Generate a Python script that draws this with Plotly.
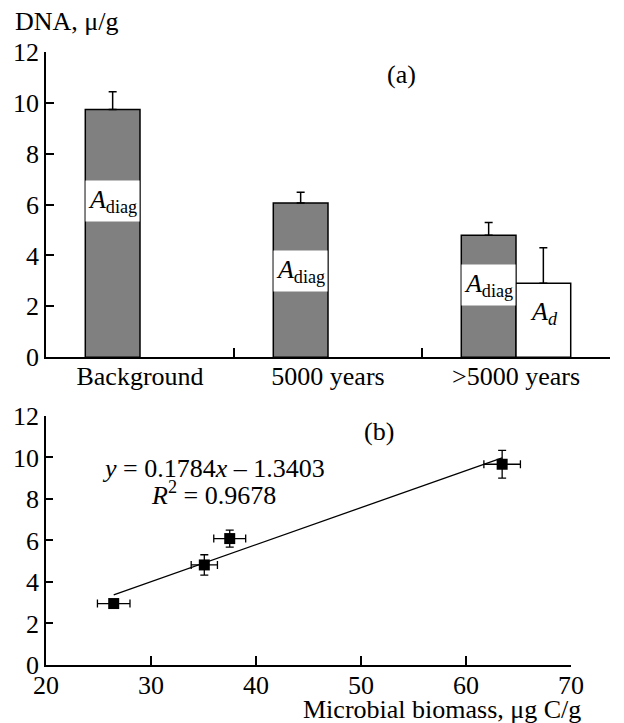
import plotly.graph_objects as go

# ---- data (a) ----
categories = ["Background", "5000 years", ">5000 years"]
diag_dna = [9.74, 6.06, 4.79]
diag_err = [0.70, 0.42, 0.51]
ad_dna = [None, None, 2.91]
ad_err = [0, 0, 1.39]

# ---- data (b) ----
biomass = [63.45, 37.5, 35.08, 26.45]
biomass_err = [1.74, 1.52, 1.25, 1.55]
dna = [9.67, 6.09, 4.82, 2.96]
dna_err = [0.67, 0.41, 0.49, 0.1]
slope = 0.1784
intercept = -1.3403
r2 = 0.9678

y_ticks = [0, 2, 4, 6, 8, 10, 12]
x_ticks = [20, 30, 40, 50, 60, 70]

FONT = "Liberation Serif"
FS = 26

fig = go.Figure()

fig.add_trace(go.Bar(
    x=categories, y=diag_dna, xaxis="x", yaxis="y",
    marker=dict(color="#808080", line=dict(color="black", width=1.5)),
    error_y=dict(type="data", array=diag_err, arrayminus=[0]*3, symmetric=False,
                 color="black", thickness=1.5, width=4),
    offsetgroup="diag", showlegend=False,
))
fig.add_trace(go.Bar(
    x=categories, y=ad_dna, xaxis="x", yaxis="y",
    marker=dict(color="white", line=dict(color="black", width=1.5)),
    error_y=dict(type="data", array=ad_err, arrayminus=[0]*3, symmetric=False,
                 color="black", thickness=1.5, width=4),
    offsetgroup="ad", showlegend=False,
))

# regression line
xl = [min(biomass), max(biomass)]
yl = [slope * v + intercept for v in xl]
fig.add_trace(go.Scatter(
    x=xl, y=yl, mode="lines", xaxis="x2", yaxis="y2",
    line=dict(color="black", width=1.3), showlegend=False,
))
fig.add_trace(go.Scatter(
    x=biomass, y=dna, mode="markers", xaxis="x2", yaxis="y2",
    marker=dict(symbol="square", size=11, color="black"),
    error_x=dict(type="data", array=biomass_err, color="black", thickness=1.3, width=4),
    error_y=dict(type="data", array=dna_err, color="black", thickness=1.3, width=4),
    showlegend=False,
))

axis_common = dict(
    showline=True, linecolor="black", linewidth=1.5, showgrid=False, zeroline=False,
    ticks="inside", tickcolor="black", tickwidth=1.5,
    tickfont=dict(family=FONT, size=FS, color="black"),
)

# bar-label annotations
bar_px = 56
label_y = [6.15, 3.37, 2.83]
annotations = []
for cat, ly in zip(categories, label_y):
    annotations.append(dict(
        x=cat, y=ly, xref="x", yref="y", xshift=-bar_px / 2,
        text="<i>A</i><sub>diag</sub>", showarrow=False,
        bgcolor="white", width=53, height=40, borderpad=0,
        font=dict(family=FONT, size=FS, color="black"),
    ))
annotations.append(dict(
    x=categories[2], y=1.73, xref="x", yref="y", xshift=bar_px / 2,
    text="<i>A</i><sub><i>d</i></sub>", showarrow=False,
    font=dict(family=FONT, size=FS, color="black"),
))
annotations += [
    dict(x=-0.059, y=1.050, xref="paper", yref="paper", xanchor="left", yanchor="middle",
         text="DNA, μ/g", showarrow=False, font=dict(family=FONT, size=FS, color="black")),
    dict(x=0.631, y=11.13, xref="paper", yref="y", text="(a)", showarrow=False,
         font=dict(family=FONT, size=FS, color="black")),
    dict(x=51.7, y=11.26, xref="x2", yref="y2", text="(b)", showarrow=False,
         font=dict(family=FONT, size=FS, color="black")),
    dict(x=35.92, y=9.48, xref="x2", yref="y2",
         text=f"<i>y</i> = {slope}<i>x</i> – {abs(intercept)}", showarrow=False,
         font=dict(family=FONT, size=FS, color="black")),
    dict(x=35.92, y=8.27, xref="x2", yref="y2",
         text=f"<i>R</i><sup>2</sup> = {r2}", showarrow=False,
         font=dict(family=FONT, size=FS, color="black")),
    dict(x=0.9515, y=-0.0723, xref="paper", yref="paper", xanchor="right", yanchor="middle",
         text="Microbial biomass, μg C/g", showarrow=False,
         font=dict(family=FONT, size=FS, color="black")),
]

# page body has an 8px margin, so the figure is sized 8px smaller
fig.update_layout(
    width=616, height=715,
    margin=dict(l=38, r=1, t=44, b=58),
    paper_bgcolor="white", plot_bgcolor="white",
    barmode="group", bargap=0.418, bargroupgap=0,
    font=dict(family=FONT, size=FS, color="black"),
    xaxis=dict(domain=[0, 1], anchor="y", type="category", range=[-0.5, 2.5],
               tickson="boundaries", ticklen=9, ticklabelstandoff=-5, **axis_common),
    yaxis=dict(domain=[0.5022, 1], anchor="x", range=[0, 12], tickvals=y_ticks,
               ticklen=8, **axis_common),
    xaxis2=dict(domain=[0, 0.9307], anchor="y2", range=[20, 70], tickvals=x_ticks,
                ticklen=9, ticklabelstandoff=-4, **axis_common),
    yaxis2=dict(domain=[0, 0.4064], anchor="x2", range=[0, 12], tickvals=y_ticks,
                ticklen=7, **axis_common),
    annotations=annotations,
)

fig.write_html("out.html")
